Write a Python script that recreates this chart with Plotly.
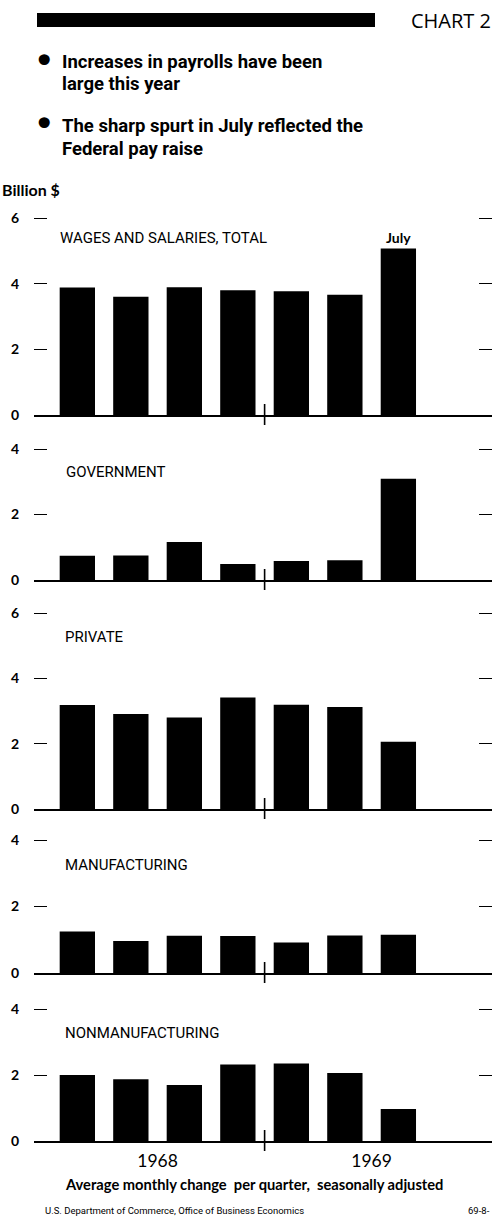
import numpy as np
import plotly.graph_objects as go

# ---------------- data ----------------
periods = ["1968 Q1", "1968 Q2", "1968 Q3", "1968 Q4", "1969 Q1", "1969 Q2", "1969 July"]
years = [1968, 1968, 1968, 1968, 1969, 1969, 1969]

total = [3.88, 3.60, 3.89, 3.80, 3.77, 3.66, 5.07]
government = [0.74, 0.75, 1.16, 0.49, 0.58, 0.60, 3.09]
private = [3.18, 2.91, 2.80, 3.41, 3.19, 3.12, 2.06]
manufacturing = [1.25, 0.96, 1.12, 1.11, 0.92, 1.13, 1.15]
nonmanufacturing = [2.00, 1.87, 1.70, 2.32, 2.35, 2.06, 0.97]

panel_titles = ["WAGES AND SALARIES, TOTAL", "GOVERNMENT", "PRIVATE",
                "MANUFACTURING", "NONMANUFACTURING"]
panel_values = [total, government, private, manufacturing, nonmanufacturing]
panel_ymax = [6, 4, 6, 4, 4]
year_labels = ["1968", "1969"]

headline_1 = ["Increases in payrolls have been", "large this year"]
headline_2 = ["The sharp spurt in July reflected the", "Federal pay raise"]

# ---------------- layout geometry ----------------
W, H = 493, 1221
L, R = 34, 1
PW = W - L - R


def py(p):  # pixel y -> paper y
    return (H - p) / H


def px(p):  # pixel x -> paper x
    return (p - L) / PW


# panel pixel extents (top tick, zero line)
panel_px = [(218, 415), (449, 580), (613, 809), (840, 973), (1009, 1141)]
title_px = [(58, 238), (64, 472), (63, 637), (63, 865), (63, 1033)]
PAD = 3  # extra px above top tick so plotly does not clip the end tick

COND = "Roboto, sans-serif"
GEO = "Lato, Open Sans, sans-serif"

x_idx = np.arange(len(periods))
boundary = years.index(1969) - 0.5

fig = go.Figure()
annotations = []
shapes = []
layout_axes = {}

for i, (vals, title, ymax, (ptop, pbot)) in enumerate(zip(panel_values, panel_titles, panel_ymax, panel_px)):
    n = i + 1
    xa = "x" if n == 1 else f"x{n}"
    ya = "y" if n == 1 else f"y{n}"
    fig.add_trace(go.Bar(x=x_idx, y=vals, xaxis=xa, yaxis=ya, marker_color="black",
                         marker_line_width=0, width=0.66, showlegend=False,
                         hovertext=periods))
    xkey = "xaxis" if n == 1 else f"xaxis{n}"
    ykey = "yaxis" if n == 1 else f"yaxis{n}"
    last = (i == len(panel_values) - 1)
    unit_px = (pbot - ptop) / ymax
    layout_axes[xkey] = dict(
        domain=[0, 1], anchor=ya, range=[-0.81, 7.75], showgrid=False, zeroline=False,
        showline=True, linecolor="black", linewidth=1.6, ticks="",
        showticklabels=last, automargin=False,
        tickvals=[years.index(1968) + 1.5, years.index(1969) + 1.5] if last else None,
        ticktext=year_labels if last else None,
        tickfont=dict(family=GEO, size=17.5, color="black"),
        ticklabelstandoff=3,
    )
    layout_axes[ykey] = dict(
        domain=[py(pbot), py(ptop - PAD)], anchor=xa, range=[0, ymax + PAD / unit_px],
        automargin=False,
        tickvals=list(range(0, ymax + 1, 2)), showgrid=False, zeroline=False,
        showline=False, ticks="inside", ticklen=13, tickwidth=1.4, tickcolor="black",
        mirror="ticks", tickfont=dict(family=GEO, size=14, color="black", weight="bold"),
        ticklabelstandoff=14,
    )
    tx, ty = title_px[i]
    annotations.append(dict(text=title, xref="paper", yref="paper", x=px(tx), y=py(ty),
                            xanchor="left", yanchor="middle", showarrow=False,
                            font=dict(family=COND, size=15, color="black")))
    # year divider tick across the zero line
    shapes.append(dict(type="line", xref=xa, yref="paper", x0=boundary, x1=boundary,
                       y0=py(pbot + 10), y1=py(pbot - 11),
                       line=dict(color="black", width=1.6)))

# "July" label over the last bar of the total panel
annotations.append(dict(text="<b>July</b>", xref="x", yref="y", x=x_idx[-1], y=total[-1],
                        xanchor="center", yanchor="bottom", yshift=1, showarrow=False,
                        font=dict(family=GEO, size=14, color="black")))

# header
shapes.append(dict(type="rect", xref="paper", yref="paper", x0=px(37), x1=px(375),
                   y0=py(27), y1=py(13), fillcolor="black", line=dict(width=0)))
annotations.append(dict(text="CHART 2", xref="paper", yref="paper", x=px(493), y=py(21),
                        xanchor="right", yanchor="middle", showarrow=False,
                        font=dict(family="Open Sans, sans-serif", size=20, color="black")))

HF = 18.5
for lines, bases, bullet_y in ((headline_1, (68, 90), 61), (headline_2, (132, 155), 124)):
    annotations.append(dict(text="•", xref="paper", yref="paper", x=px(44), y=py(bullet_y),
                            xanchor="center", yanchor="middle", showarrow=False,
                            font=dict(family="DejaVu Sans", size=38, color="black")))
    for line, base in zip(lines, bases):
        annotations.append(dict(text=f"<b>{line}</b>", xref="paper", yref="paper", x=px(60),
                                y=py(base - 0.35 * HF), xanchor="left", yanchor="middle",
                                showarrow=False,
                                font=dict(family=COND, size=HF, color="black")))

annotations.append(dict(text="<b>Billion $</b>", xref="paper", yref="paper", x=px(0), y=py(190),
                        xanchor="left", yanchor="middle", showarrow=False,
                        font=dict(family=GEO, size=16, color="black")))

annotations.append(dict(text="<b>Average monthly change  per quarter,  seasonally adjusted</b>",
                        xref="paper", yref="paper", x=px(254), y=py(1184),
                        xanchor="center", yanchor="middle", showarrow=False,
                        font=dict(family=GEO, size=14.7, color="black")))
annotations.append(dict(text="U.S. Department of Commerce, Office of Business Economics",
                        xref="paper", yref="paper", x=px(43), y=py(1210),
                        xanchor="left", yanchor="middle", showarrow=False,
                        font=dict(family=COND, size=9.5, color="black")))
annotations.append(dict(text="69-8-", xref="paper", yref="paper", x=px(466), y=py(1210),
                        xanchor="left", yanchor="middle", showarrow=False,
                        font=dict(family=COND, size=9.5, color="black")))

fig.update_layout(
    width=W, height=H, margin=dict(l=L, r=R, t=0, b=0, autoexpand=False),
    paper_bgcolor="white", plot_bgcolor="white",
    annotations=annotations, shapes=shapes, showlegend=False, bargap=0.3,
    **layout_axes,
)

fig.write_html("out.html", config={"displayModeBar": False},
               post_script="document.body.style.margin='0';")
